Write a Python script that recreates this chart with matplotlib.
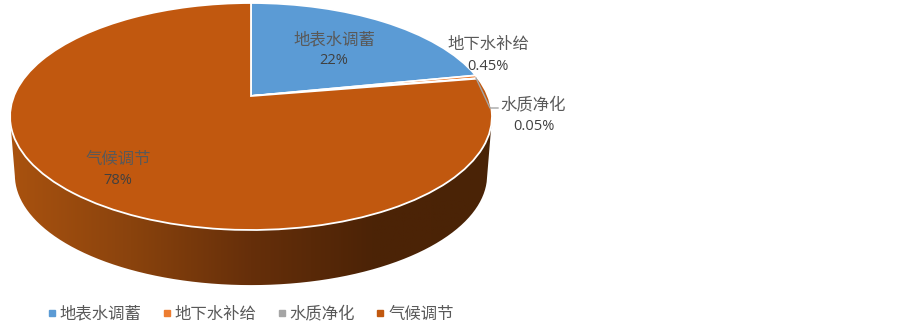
import numpy as np
import matplotlib
matplotlib.use("Agg")
import matplotlib.pyplot as plt
from matplotlib.colors import LinearSegmentedColormap
from matplotlib.lines import Line2D
from matplotlib.patches import PathPatch
from matplotlib.path import Path
from matplotlib.transforms import Transform

plt.rcParams['font.family'] = ['Noto Sans CJK SC', 'DejaVu Sans']

categories = ['地表水调蓄', '地下水补给', '水质净化', '气候调节']
values = [22, 0.45, 0.05, 78]
pct_labels = ['22%', '0.45%', '0.05%', '78%']
colors = ['#5b9bd5', '#ed7d31', '#a5a5a5', '#c1580f']
side_colors = ['#a9520f', '#8a430d', '#662f0a', '#4c2306', '#4a2306']

# pie seen from above: unit circle goes through a perspective map, result is in pixels
CX, CY = 251, 96
KP = 0.1806
AX_R, AY_R = 237, 109.8


class PieTilt(Transform):
    input_dims = 2
    output_dims = 2
    is_affine = False
    has_inverse = False

    def transform_non_affine(self, xy):
        xy = np.asarray(xy, dtype=float)
        d = 1 + KP * xy[:, 1]
        return np.column_stack([CX + AX_R * xy[:, 0] / d, CY - AY_R * xy[:, 1] / d])


fig = plt.figure(figsize=(9.03, 3.24), dpi=100)
ax = fig.add_axes([0, 0, 1, 1])

wedges, _ = ax.pie(values, colors=colors, startangle=90, counterclock=False, radius=1,
                   wedgeprops=dict(edgecolor='white', linewidth=1.3))
tilt = PieTilt()
for w in wedges:
    w.set_transform(tilt + ax.transData)
    w.set_zorder(3)

# side of the pie: rim outline, lower half, and a smaller rim lower down
t = np.linspace(0, 2 * np.pi, 361)
rim = tilt.transform_non_affine(np.column_stack([np.cos(t), np.sin(t)]))
low = rim[rim[:, 1] > 122]
low = low[np.argsort(low[:, 0])]
bottom_x = CX + (rim[:, 0] - CX) * 0.98
bottom_y = 175 + (rim[:, 1] - 116.5) * 0.97
bottom = np.column_stack([bottom_x, bottom_y])
bottom = bottom[bottom[:, 1] > 175]
bottom = bottom[np.argsort(-bottom[:, 0])]
side_path = Path(np.vstack([low, bottom, low[:1]]))

cmap = LinearSegmentedColormap.from_list('side', side_colors)
grad = np.linspace(0, 1, 256).reshape(1, -1)
im = ax.imshow(grad, cmap=cmap, aspect='auto', extent=(10, 492, 290, 110), zorder=1)
im.set_clip_path(PathPatch(side_path, transform=ax.transData))

ax.set_aspect('auto')
ax.set_xlim(0, 903)
ax.set_ylim(324, 0)
ax.axis('off')

# leader line for the tiny slice
ax.plot([476, 490, 498], [78, 108, 108], color='#a5a5a5', lw=1, zorder=4)

# labels, name above the percent
label_x = [334, 488, 533.5, 118]
name_y = [40, 44, 105, 159]
pct_y = [61, 66, 126, 181]
for i in range(4):
    ax.text(label_x[i], name_y[i], categories[i], fontsize=11.8, color='#595959',
            ha='center', va='center', zorder=5)
    ax.text(label_x[i], pct_y[i], pct_labels[i], fontsize=10.5, color='#404040',
            family=['Open Sans', 'DejaVu Sans'], ha='center', va='center', zorder=5)

handles = [Line2D([], [], ls='', marker='s', ms=4, color=c) for c in colors]
ax.legend(handles, categories, ncol=4, loc='center', bbox_to_anchor=(0.2745, 0.03),
          bbox_transform=fig.transFigure, frameon=False, fontsize=11.8,
          labelcolor='#595959', handletextpad=-0.12, columnspacing=0.94, handlelength=1.2)

fig.savefig('out.png', dpi=100)
